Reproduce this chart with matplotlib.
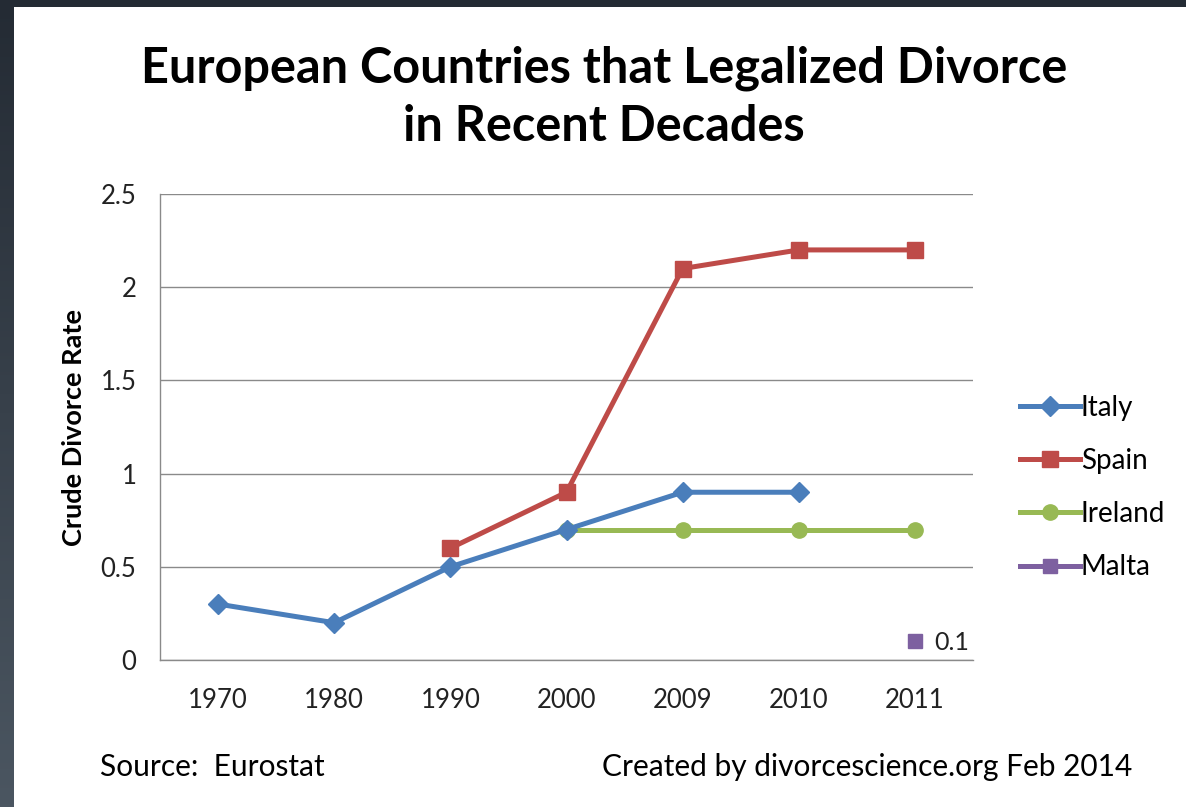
import numpy as np
import matplotlib
matplotlib.use("Agg")
import matplotlib.pyplot as plt
from matplotlib.colors import LinearSegmentedColormap

years = ["1970", "1980", "1990", "2000", "2009", "2010", "2011"]
italy = [0.3, 0.2, 0.5, 0.7, 0.9, 0.9, None]
spain = [None, None, 0.6, 0.9, 2.1, 2.2, 2.2]
ireland = [None, None, None, 0.7, 0.7, 0.7, 0.7]
malta = [None, None, None, None, None, None, 0.1]
yticks = [0, 0.5, 1, 1.5, 2, 2.5]
ytick_labels = ["0", "0.5", "1", "1.5", "2", "2.5"]

FONT = ["Lato", "DejaVu Sans"]
plt.rcParams['font.family'] = FONT

W, H = 1186, 807
fig = plt.figure(figsize=(W / 100, H / 100), dpi=100, facecolor="white")

# dark frame (left and top strips)
grad = np.linspace(0, 1, 256).reshape(-1, 1)
cmap = LinearSegmentedColormap.from_list("slate", ["#242b34", "#4b5661"])
axl = fig.add_axes([0, 0, 14 / W, 1])
axl.imshow(grad, aspect="auto", cmap=cmap, extent=[0, 1, 1, 0])
axl.axis("off")
axt = fig.add_axes([0, 1 - 7 / H, 1, 7 / H])
axt.set_facecolor("#242b34")
axt.set_xticks([]); axt.set_yticks([])
for s in axt.spines.values():
    s.set_visible(False)

ax = fig.add_axes([160 / W, 1 - 660 / H, (973 - 160) / W, (660 - 194) / H])
x = np.arange(len(years)) + 0.5

def arr(v):
    return np.array([np.nan if a is None else a for a in v], dtype=float)

ax.plot(x, arr(italy), color="#4a7ebb", lw=3.6, marker="D", ms=10, label="Italy", zorder=5)
ax.plot(x, arr(spain), color="#be4b48", lw=3.6, marker="s", ms=11, label="Spain", zorder=4)
ax.plot(x, arr(ireland), color="#98b954", lw=3.6, marker="o", ms=11, label="Ireland", zorder=3)
ax.plot(x, arr(malta), color="#7d60a0", lw=3.6, marker="s", ms=10, label="Malta", zorder=6)
ax.annotate("0.1", (x[6], malta[6]), xytext=(14, -1), textcoords="offset points",
            va="center", ha="left", fontsize=18, color="#222222")

ax.set_xlim(0, len(years))
ax.set_ylim(0, 2.5)
ax.set_yticks(yticks)
ax.set_yticklabels(ytick_labels)
ax.set_xticks(x)
ax.set_xticklabels(years)
ax.tick_params(axis="both", length=0, labelsize=18.5, colors="#222222")
ax.tick_params(axis="y", pad=17)
ax.tick_params(axis="x", pad=20)
ax.grid(axis="y", color="#8a8a8a", lw=1)
ax.set_axisbelow(True)
for k in ["top", "right"]:
    ax.spines[k].set_visible(False)
for k in ["left", "bottom"]:
    ax.spines[k].set_color("#8a8a8a")
    ax.spines[k].set_linewidth(1)
ax.set_ylabel("Crude Divorce Rate", fontsize=19.5, fontweight="bold", labelpad=10)

leg = ax.legend(loc="center left", bbox_to_anchor=(1.044, 0.37), frameon=False,
                fontsize=20, handlelength=2.15, handletextpad=0.05, labelspacing=0.98,
                borderaxespad=0)

fig.text(604 / W, 1 - 97 / H, "European Countries that Legalized Divorce\nin Recent Decades",
         ha="center", va="center", fontsize=35, fontweight="bold", linespacing=1.35)
fig.text(100 / W, 1 - 767 / H, "Source:  Eurostat", ha="left", va="center", fontsize=21.5)
fig.text(1132 / W, 1 - 767 / H, "Created by divorcescience.org Feb 2014", ha="right",
         va="center", fontsize=21.5)

fig.savefig("out.png", dpi=100, facecolor="white")
